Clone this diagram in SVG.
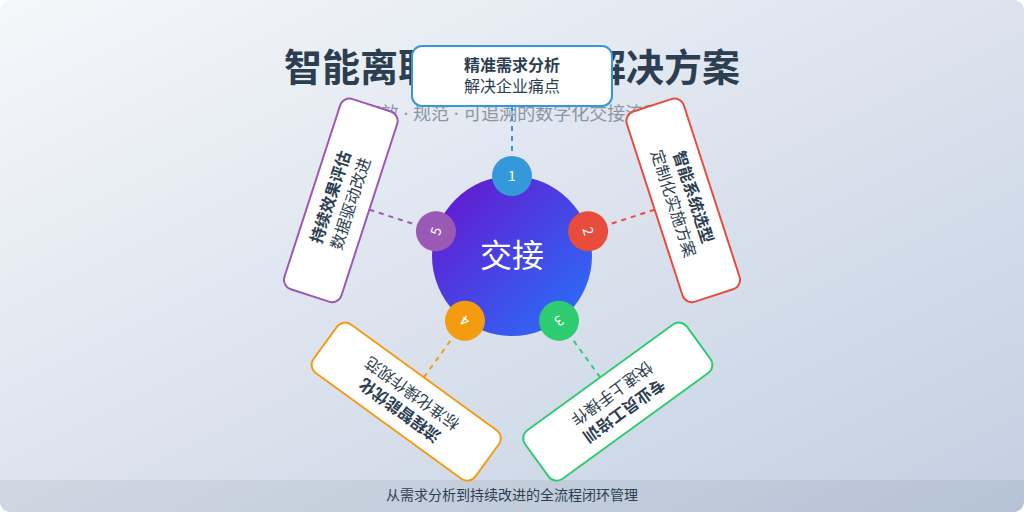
<svg xmlns="http://www.w3.org/2000/svg" width="1024" height="512" viewBox="0 0 1024 512">
  <defs>
    <linearGradient id="bg" x1="0" y1="0" x2="1" y2="1">
      <stop offset="0" stop-color="#f5f7fa"/>
      <stop offset="1" stop-color="#c3cfe2"/>
    </linearGradient>
    <linearGradient id="core" x1="0" y1="0" x2="1" y2="1">
      <stop offset="0" stop-color="#6a11cb"/>
      <stop offset="1" stop-color="#2575fc"/>
    </linearGradient>
    <clipPath id="frame"><rect x="0" y="0" width="1024" height="512" rx="10"/></clipPath>
  </defs>
  <style>
    text { font-family: "Noto Sans CJK SC", "Noto Sans", sans-serif; }
    .title { font-size: 38px; font-weight: 700; fill: #2c3e50; text-anchor: middle; }
    .subtitle { font-size: 18px; fill: #8a96a3; text-anchor: middle; }
    .dot { font-family: "Noto Sans", sans-serif; }
    .footer { font-size: 14px; fill: #2c3e50; text-anchor: middle; }
    .card { fill: #ffffff; stroke-width: 2; }
    .ct { font-size: 16px; font-weight: 700; fill: #2c3e50; text-anchor: middle; }
    .cs { font-size: 16px; fill: #2c3e50; text-anchor: middle; }
    .num { font-size: 14px; fill: #ffffff; text-anchor: middle; }
    .conn { stroke-width: 2; stroke-dasharray: 5 5; fill: none; }
    .core-t { font-size: 32px; fill: #ffffff; text-anchor: middle; }
  </style>
  <rect x="0" y="0" width="1024" height="512" fill="#ffffff"/>
  <g clip-path="url(#frame)">
    <rect x="0" y="0" width="1024" height="512" fill="url(#bg)"/>
    <rect x="0" y="480" width="1024" height="32" fill="#2c3e50" fill-opacity="0.08"/>
  </g>
  <text class="title" x="512" y="81">智能离职交接系统解决方案</text>
  <text class="subtitle" x="512" y="120">高效<tspan class="dot"> · </tspan>规范<tspan class="dot"> · </tspan>可追溯的数字化交接流程</text>
  <text class="footer" x="512" y="500">从需求分析到持续改进的全流程闭环管理</text>

  <g id="connectors">
    <line class="conn" stroke="#3498db" x1="512" y1="106" x2="512" y2="156" transform="rotate(0 512 256)"/>
    <line class="conn" stroke="#e74c3c" x1="512" y1="106" x2="512" y2="156" transform="rotate(72 512 256)"/>
    <line class="conn" stroke="#2ecc71" x1="512" y1="106" x2="512" y2="156" transform="rotate(144 512 256)"/>
    <line class="conn" stroke="#f39c12" x1="512" y1="106" x2="512" y2="156" transform="rotate(216 512 256)"/>
    <line class="conn" stroke="#9b59b6" x1="512" y1="106" x2="512" y2="156" transform="rotate(288 512 256)"/>
  </g>

  <g id="core">
    <circle cx="512" cy="256" r="80" fill="url(#core)"/>
    <text class="core-t" x="512" y="267">交接</text>
  </g>

  <g id="step1-badge" transform="rotate(0 512 256)">
    <circle cx="512" cy="176" r="20" fill="#3498db"/>
    <text class="num" x="512" y="181">1</text>
  </g>
  <g id="step2-badge" transform="rotate(72 512 256)">
    <circle cx="512" cy="176" r="20" fill="#e74c3c"/>
    <text class="num" x="512" y="181">2</text>
  </g>
  <g id="step3-badge" transform="rotate(144 512 256)">
    <circle cx="512" cy="176" r="20" fill="#2ecc71"/>
    <text class="num" x="512" y="181">3</text>
  </g>
  <g id="step4-badge" transform="rotate(216 512 256)">
    <circle cx="512" cy="176" r="20" fill="#f39c12"/>
    <text class="num" x="512" y="181">4</text>
  </g>
  <g id="step5-badge" transform="rotate(288 512 256)">
    <circle cx="512" cy="176" r="20" fill="#9b59b6"/>
    <text class="num" x="512" y="181">5</text>
  </g>

  <g id="step1" transform="rotate(0 512 256)">
    <rect class="card" stroke="#3498db" x="412" y="46" width="200" height="60" rx="10"/>
    <text class="ct" x="512" y="71">精准需求分析</text>
    <text class="cs" x="512" y="92">解决企业痛点</text>
  </g>
  <g id="step2" transform="rotate(72 512 256)">
    <rect class="card" stroke="#e74c3c" x="412" y="46" width="200" height="60" rx="10"/>
    <text class="ct" x="512" y="71">智能系统选型</text>
    <text class="cs" x="512" y="92">定制化实施方案</text>
  </g>
  <g id="step3" transform="rotate(144 512 256)">
    <rect class="card" stroke="#2ecc71" x="412" y="46" width="200" height="60" rx="10"/>
    <text class="ct" x="512" y="71">专业员工培训</text>
    <text class="cs" x="512" y="92">快速上手操作</text>
  </g>
  <g id="step4" transform="rotate(216 512 256)">
    <rect class="card" stroke="#f39c12" x="412" y="46" width="200" height="60" rx="10"/>
    <text class="ct" x="512" y="71">流程智能优化</text>
    <text class="cs" x="512" y="92">标准化操作规范</text>
  </g>
  <g id="step5" transform="rotate(288 512 256)">
    <rect class="card" stroke="#9b59b6" x="412" y="46" width="200" height="60" rx="10"/>
    <text class="ct" x="512" y="71">持续效果评估</text>
    <text class="cs" x="512" y="92">数据驱动改进</text>
  </g>
</svg>
